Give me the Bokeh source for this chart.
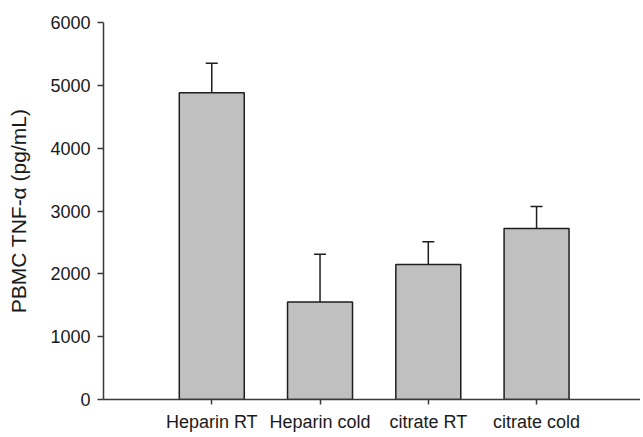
from bokeh.plotting import figure
from bokeh.models import ColumnDataSource, FixedTicker, Range1d, Whisker, TeeHead
from bokeh.embed import file_html
from bokeh.resources import INLINE

categories = ["Heparin RT", "Heparin cold", "citrate RT", "citrate cold"]
means = [4880, 1550, 2150, 2720]
errors = [470, 760, 360, 350]
y_ticks = [0, 1000, 2000, 3000, 4000, 5000, 6000]

xs = list(range(1, len(categories) + 1))
src = ColumnDataSource(dict(
    x=xs, top=means, upper=[m + e for m, e in zip(means, errors)], lab=categories))

FONT = "Liberation Sans"
AX = "#3a3a3a"

p = figure(width=640, height=434, output_backend="svg", toolbar_location=None,
           x_range=Range1d(0, 4.96), y_range=Range1d(0, 6000),
           min_border_left=103, min_border_right=0, min_border_top=22, min_border_bottom=0)
p.outline_line_color = None
p.grid.visible = False

p.vbar(x="x", top="top", bottom=0, width=0.6, source=src,
       fill_color="#c0c0c0", line_color="#1e1e1e", line_width=1.5)

w = Whisker(base="x", lower="top", upper="upper", source=src, dimension="height",
            line_color="#1e1e1e", line_width=1.5,
            upper_head=TeeHead(size=12, line_color="#1e1e1e", line_width=1.5),
            lower_head=None)
p.add_layout(w)

p.xaxis.ticker = FixedTicker(ticks=xs)
p.xaxis.major_label_overrides = {x: c for x, c in zip(xs, categories)}
p.xaxis.minor_tick_line_color = None
p.xaxis.major_tick_out = 5
p.xaxis.major_tick_in = 0
p.xaxis.major_label_standoff = 7
p.yaxis.ticker = FixedTicker(ticks=y_ticks)
p.yaxis.minor_tick_line_color = None
p.yaxis.major_tick_out = 6
p.yaxis.major_tick_in = 0
p.yaxis.major_label_standoff = 7
p.yaxis.axis_label = "PBMC TNF-α (pg/mL)"
p.yaxis.axis_label_standoff = 17

for ax in (p.xaxis, p.yaxis):
    ax.axis_line_color = AX
    ax.axis_line_width = 1.5
    ax.major_tick_line_color = AX
    ax.major_tick_line_width = 1.5
    ax.major_label_text_font = FONT
    ax.major_label_text_font_size = "18px"
    ax.major_label_text_color = "#1a1a1a"
    ax.axis_label_text_font = FONT
    ax.axis_label_text_font_size = "21px"
    ax.axis_label_text_font_style = "normal"
    ax.axis_label_text_color = "#1a1a1a"

open("out.html", "w").write(file_html(p, INLINE))
